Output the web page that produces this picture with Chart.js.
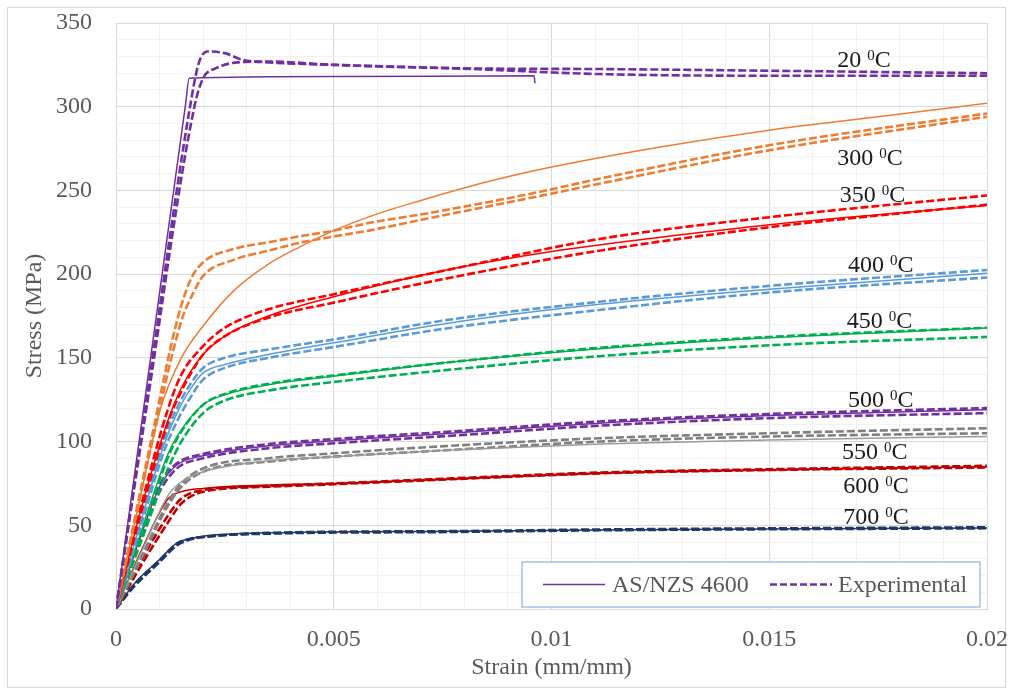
<!DOCTYPE html>
<html>
<head>
<meta charset="utf-8">
<script src="https://cdn.jsdelivr.net/npm/chart.js@4.4.1/dist/chart.umd.min.js"></script>
<style>
  html, body { margin: 0; padding: 0; background: #ffffff; }
  #wrap { position: relative; width: 1013px; height: 691px; }
</style>
</head>
<body>
<div id="wrap"><canvas id="chart" width="1013" height="691"></canvas></div>
<script>
// Stress-strain curves of cold-formed steel at elevated temperatures:
// AS/NZS 4600 model (solid) against two test coupons (dashed) per temperature.

const xTickLabels = ['0', '0.005', '0.01', '0.015', '0.02'];
const yTickLabels = ['0', '50', '100', '150', '200', '250', '300', '350'];

const tempLabels = ['20', '300', '350', '400', '450', '500', '550', '600', '700'];
const labelStrain = [0.01656, 0.01656, 0.01662, 0.01681, 0.01678, 0.01681, 0.01667, 0.01670, 0.01670];
const labelStress = [323.7, 265.2, 243.1, 201.3, 167.8, 120.6, 89.6, 69.3, 50.8];

// 20 °C
const strain20Code = [0, 0.0008, 0.0016, 0.00168, 0.005, 0.0096, 0.00962];
const stress20Code = [0, 151, 302, 317, 318, 318.5, 314];
const strain20ExpA = [0, 0.0007, 0.0017, 0.0019, 0.0021, 0.0025, 0.0029, 0.0035, 0.005, 0.0077, 0.0111, 0.015, 0.02];
const stress20ExpA = [0, 125, 300, 326, 333, 332, 328, 326.5, 325, 323, 322.5, 321.5, 320];
const strain20ExpB = [0, 0.0007, 0.0018, 0.002, 0.0023, 0.0028, 0.0035, 0.005, 0.0077, 0.0111, 0.015, 0.02];
const stress20ExpB = [0, 120, 300, 317, 323, 326.5, 327, 325, 323, 319.5, 318.5, 318.5];

// 300 °C
const strain300Code = [0, 0.0006, 0.001, 0.0015, 0.002, 0.0027, 0.0035, 0.0042, 0.005, 0.006, 0.007, 0.0085, 0.01, 0.0125, 0.015, 0.0175, 0.02];
const stress300Code = [0, 72, 118, 150, 169, 190, 206, 216, 226, 236, 244, 255, 264, 276, 286, 294, 302];
const strain300ExpA = [0, 0.0008, 0.0014, 0.0017, 0.002, 0.0027, 0.0035, 0.0042, 0.005, 0.0058, 0.0073, 0.0097, 0.0111, 0.015, 0.02];
const stress300ExpA = [0, 100, 172, 196, 207, 215, 219, 222.5, 226, 230.5, 237, 249, 257, 277, 296];
const strain300ExpB = [0, 0.0008, 0.0015, 0.0018, 0.002, 0.0027, 0.0035, 0.0042, 0.005, 0.0058, 0.0073, 0.0097, 0.0111, 0.015, 0.02];
const stress300ExpB = [0, 96, 172, 190, 199, 208.5, 214, 218.6, 222.5, 226, 234, 246.5, 254, 274, 294];

// 350 °C
const strain350Code = [0, 0.0006, 0.0012, 0.0015, 0.002, 0.0025, 0.0035, 0.005, 0.0075, 0.01, 0.0125, 0.015, 0.0175, 0.02];
const stress350Code = [0, 62, 113, 132, 152, 163, 175, 186.5, 202, 213.5, 222, 229.5, 235.5, 241];
const strain350Exp = [0, 0.0006, 0.0012, 0.0015, 0.002, 0.0025, 0.0035, 0.005, 0.0077, 0.0111, 0.015, 0.02];
const stress350ExpA = [0, 64, 120, 140, 157, 168, 179, 188, 203, 221, 234, 247];
const stress350ExpB = [0, 60, 112, 130, 152, 163, 174, 183, 198, 214, 228, 241.5];

// 400 °C
const strain400 = [0, 0.0006, 0.0011, 0.0014, 0.0017, 0.002, 0.0025, 0.0035, 0.005, 0.0077, 0.0111, 0.015, 0.02];
const stress400Code = [0, 55, 98, 117, 131, 141, 146, 152, 159, 171, 182, 191, 200.5];
const stress400ExpA = [0, 56, 101, 120, 134, 144, 150, 155, 161, 173, 183.5, 193, 202.5];
const stress400ExpB = [0, 52, 94, 112, 126, 137, 144, 150, 156.5, 168, 178.6, 189, 198];

// 450 °C
const strain450 = [0, 0.0006, 0.0012, 0.0015, 0.002, 0.0025, 0.0035, 0.005, 0.0077, 0.0111, 0.015, 0.02];
const stress450Code = [0, 48, 93, 107, 122, 128, 134, 139, 147.5, 155.5, 162, 167.8];
const stress450ExpA = [0, 46, 91, 106, 122, 128.5, 134.5, 139.5, 147.5, 156, 162.5, 168];
const stress450ExpB = [0, 42, 84, 100, 117, 124.5, 130.5, 135.6, 143, 151, 157.5, 162.5];

// 500 °C
const strain500 = [0, 0.0006, 0.001, 0.0014, 0.002, 0.0035, 0.005, 0.0077, 0.0111, 0.015, 0.02];
const stress500Code = [0, 46, 73, 86, 91.5, 97.5, 100.5, 105, 111, 115.5, 119];
const stress500ExpA = [0, 46, 74, 87, 92.5, 98.5, 101.5, 106, 112, 116.5, 120];
const stress500ExpB = [0, 44, 70, 84, 90, 96, 99, 103.5, 109.5, 114, 117];

// 550 °C
const strain550 = [0, 0.0006, 0.0012, 0.0015, 0.002, 0.0035, 0.005, 0.0077, 0.0111, 0.015, 0.02];
const stress550Code = [0, 35, 68, 76, 82, 88.5, 91, 95, 98.5, 101, 103];
const stress550ExpA = [0, 32, 64, 75, 84, 90, 93, 97.5, 102, 105, 108];
const stress550ExpB = [0, 31, 62, 73, 82, 88, 91, 95, 100, 103, 105];

// 600 °C
const strain600 = [0, 0.0006, 0.0012, 0.0015, 0.002, 0.0035, 0.005, 0.0077, 0.0111, 0.015, 0.02];
const stress600Code = [0, 36, 66, 70, 72, 74, 75, 77.5, 81, 83, 85];
const stress600ExpA = [0, 30, 56, 66, 71, 73.5, 75, 78, 81.5, 83.5, 85.5];
const stress600ExpB = [0, 27, 52, 63, 70, 73, 74.5, 77.5, 81, 83, 84.5];

// 700 °C
const strain700 = [0, 0.0004, 0.001, 0.0014, 0.0017, 0.002, 0.0035, 0.0077, 0.0111, 0.02];
const stress700Code = [0, 14.5, 29.5, 39.5, 42, 43.5, 45.5, 46.5, 47.2, 48.4];
const stress700ExpA = [0, 14, 29, 39, 42, 43, 45.5, 46.5, 47.5, 48.8];
const stress700ExpB = [0, 13, 28, 38, 41.5, 43, 45, 46, 47, 48.2];

const FONT = '"Liberation Serif", "Times New Roman", serif';
const AXIS_TEXT = '#595959';
const PURPLE = '#7030A0';

function pairs(xs, ys) {
  return xs.map((x, i) => ({ x: x, y: ys[i] }));
}

function curve(label, xs, ys, color, dashed) {
  return {
    label: label,
    data: pairs(xs, ys),
    showLine: true,
    borderColor: color,
    backgroundColor: color,
    borderWidth: dashed ? 2.6 : 1.5,
    borderDash: dashed ? [8, 3] : [],
    pointRadius: 0,
    pointHoverRadius: 0,
    cubicInterpolationMode: 'monotone',
    fill: false
  };
}

const datasets = [
  curve('20 code', strain20Code, stress20Code, PURPLE, false),
  curve('20 exp A', strain20ExpA, stress20ExpA, PURPLE, true),
  curve('20 exp B', strain20ExpB, stress20ExpB, PURPLE, true),
  curve('300 code', strain300Code, stress300Code, '#ED7D31', false),
  curve('300 exp A', strain300ExpA, stress300ExpA, '#ED7D31', true),
  curve('300 exp B', strain300ExpB, stress300ExpB, '#ED7D31', true),
  curve('350 code', strain350Code, stress350Code, '#FF0000', false),
  curve('350 exp A', strain350Exp, stress350ExpA, '#FF0000', true),
  curve('350 exp B', strain350Exp, stress350ExpB, '#FF0000', true),
  curve('400 code', strain400, stress400Code, '#5B9BD5', false),
  curve('400 exp A', strain400, stress400ExpA, '#5B9BD5', true),
  curve('400 exp B', strain400, stress400ExpB, '#5B9BD5', true),
  curve('450 code', strain450, stress450Code, '#00B050', false),
  curve('450 exp A', strain450, stress450ExpA, '#00B050', true),
  curve('450 exp B', strain450, stress450ExpB, '#00B050', true),
  curve('500 code', strain500, stress500Code, PURPLE, false),
  curve('500 exp A', strain500, stress500ExpA, PURPLE, true),
  curve('500 exp B', strain500, stress500ExpB, PURPLE, true),
  curve('550 code', strain550, stress550Code, '#9A9A9A', false),
  curve('550 exp A', strain550, stress550ExpA, '#808080', true),
  curve('550 exp B', strain550, stress550ExpB, '#808080', true),
  curve('600 code', strain600, stress600Code, '#C00000', false),
  curve('600 exp A', strain600, stress600ExpA, '#C00000', true),
  curve('600 exp B', strain600, stress600ExpB, '#C00000', true),
  curve('700 code', strain700, stress700Code, '#1F3864', false),
  curve('700 exp A', strain700, stress700ExpA, '#1F3864', true),
  curve('700 exp B', strain700, stress700ExpB, '#1F3864', true)
];

// grid positions: minor every 0.001 strain / 10 MPa, labelled every fifth
const xGrid = [];
for (let i = 0; i <= 20; i++) xGrid.push(i * 0.001);
const yGrid = [];
for (let i = 0; i <= 35; i++) yGrid.push(i * 10);

const frame = {
  id: 'frame',
  beforeDraw(chart) {
    const c = chart.ctx;
    c.save();
    c.fillStyle = '#ffffff';
    c.fillRect(0, 0, chart.width, chart.height);
    c.strokeStyle = '#D9D9D9';
    c.lineWidth = 1;
    c.strokeRect(7.5, 7.5, chart.width - 15, chart.height - 11);
    c.restore();
  }
};

const tempTags = {
  id: 'tempTags',
  afterDatasetsDraw(chart) {
    const c = chart.ctx;
    const xs = chart.scales.x, ys = chart.scales.y;
    c.save();
    c.fillStyle = '#1a1a1a';
    c.textBaseline = 'alphabetic';
    c.textAlign = 'left';
    tempLabels.forEach((t, i) => {
      const x = xs.getPixelForValue(labelStrain[i]);
      const y = ys.getPixelForValue(labelStress[i]);
      c.font = '24px ' + FONT;
      const main = t + ' ';
      c.fillText(main, x, y);
      let w = c.measureText(main).width;
      c.font = '15px ' + FONT;
      c.fillText('0', x + w, y - 7);
      w += c.measureText('0').width;
      c.font = '24px ' + FONT;
      c.fillText('C', x + w, y);
    });
    c.restore();
  }
};

const keyBox = {
  id: 'keyBox',
  afterDraw(chart) {
    const c = chart.ctx;
    const a = chart.chartArea;
    const right = a.right - 7, bottom = a.bottom - 2;
    const left = right - 458, top = bottom - 45;
    const mid = (top + bottom) / 2;
    c.save();
    c.fillStyle = '#ffffff';
    c.fillRect(left, top, right - left, bottom - top);
    c.strokeStyle = '#9DC3E6';
    c.lineWidth = 1.5;
    c.strokeRect(left, top, right - left, bottom - top);

    c.strokeStyle = PURPLE;
    c.lineWidth = 1.5;
    c.setLineDash([]);
    c.beginPath();
    c.moveTo(left + 21, mid);
    c.lineTo(left + 83, mid);
    c.stroke();

    c.lineWidth = 2.6;
    c.setLineDash([7, 3]);
    c.beginPath();
    c.moveTo(left + 248, mid);
    c.lineTo(left + 310, mid);
    c.stroke();
    c.setLineDash([]);

    c.fillStyle = AXIS_TEXT;
    c.font = '24px ' + FONT;
    c.textBaseline = 'middle';
    c.textAlign = 'left';
    c.fillText('AS/NZS 4600', left + 90, mid + 1);
    c.fillText('Experimental', left + 316, mid + 1);
    c.restore();
  }
};

new Chart(document.getElementById('chart'), {
  type: 'scatter',
  data: { datasets: datasets },
  plugins: [frame, tempTags, keyBox],
  options: {
    responsive: false,
    animation: false,
    devicePixelRatio: 1,
    layout: { padding: { left: 0, right: 26, top: 23, bottom: 0 } },
    plugins: {
      legend: { display: false },
      tooltip: { enabled: false },
      title: { display: false }
    },
    scales: {
      x: {
        type: 'linear',
        min: 0,
        max: 0.02,
        afterBuildTicks(s) { s.ticks = xGrid.map(v => ({ value: v })); },
        afterFit(s) {
          s.height = 82;
          s.paddingLeft = 0; s.paddingRight = 0; s.paddingTop = 0; s.paddingBottom = 0;
        },
        grid: {
          color: ctx => (ctx.index % 5 === 0 ? '#D9D9D9' : '#F2F2F2'),
          lineWidth: 1,
          drawTicks: false
        },
        border: { color: '#D9D9D9', width: 1 },
        ticks: {
          autoSkip: false,
          maxRotation: 0,
          minRotation: 0,
          padding: 16,
          color: AXIS_TEXT,
          font: { family: FONT, size: 24 },
          callback: (v, i) => (i % 5 === 0 ? xTickLabels[i / 5] : '')
        },
        title: {
          display: true,
          text: 'Strain (mm/mm)',
          color: AXIS_TEXT,
          font: { family: FONT, size: 24 },
          padding: { top: 0, bottom: 9 }
        }
      },
      y: {
        type: 'linear',
        min: 0,
        max: 350,
        afterBuildTicks(s) { s.ticks = yGrid.map(v => ({ value: v })); },
        afterFit(s) {
          s.width = 116;
          s.paddingLeft = 0; s.paddingRight = 0; s.paddingTop = 0; s.paddingBottom = 0;
        },
        grid: {
          color: ctx => (ctx.index % 5 === 0 ? '#D9D9D9' : '#F2F2F2'),
          lineWidth: 1,
          drawTicks: false
        },
        border: { color: '#D9D9D9', width: 1 },
        ticks: {
          autoSkip: false,
          padding: 24,
          color: AXIS_TEXT,
          font: { family: FONT, size: 24 },
          callback: (v, i) => (i % 5 === 0 ? yTickLabels[i / 5] : '')
        },
        title: {
          display: true,
          text: 'Stress (MPa)',
          color: AXIS_TEXT,
          font: { family: FONT, size: 24 },
          padding: { top: 20, bottom: 0 }
        }
      }
    }
  }
});
</script>
</body>
</html>
